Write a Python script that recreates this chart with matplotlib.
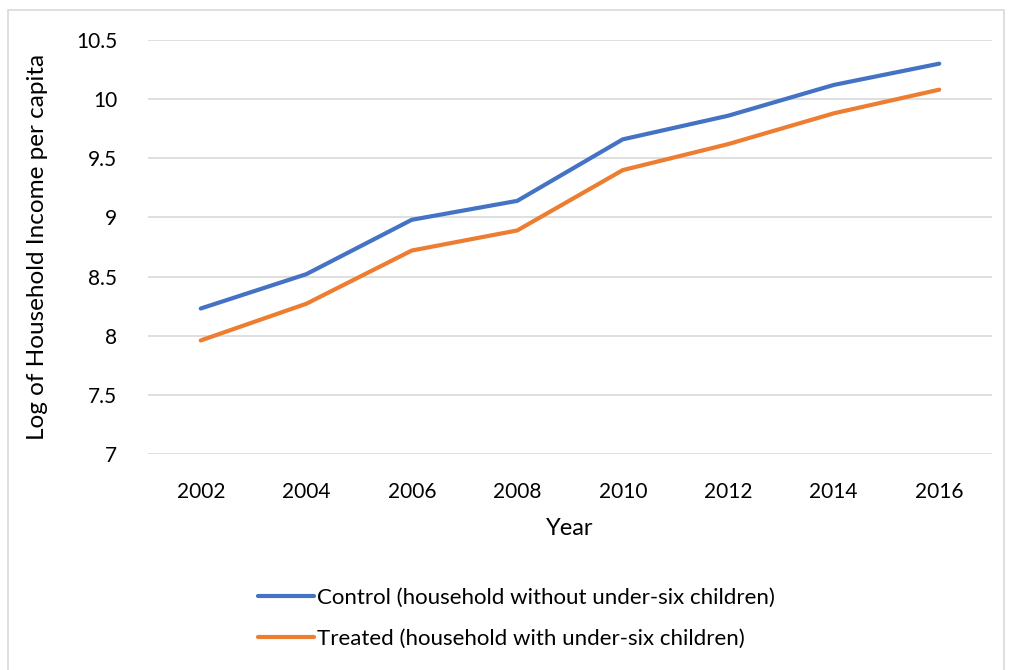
import numpy as np
import matplotlib.pyplot as plt
from matplotlib.patches import Rectangle

plt.rcParams['font.family'] = ['Lato', 'DejaVu Sans']

years = ['2002', '2004', '2006', '2008', '2010', '2012', '2014', '2016']
control = [8.23, 8.52, 8.98, 9.14, 9.66, 9.86, 10.12, 10.30]
treated = [7.96, 8.27, 8.72, 8.89, 9.40, 9.62, 9.88, 10.08]

fig = plt.figure(figsize=(10.11, 6.70), dpi=100)
ax = fig.add_axes([0.1464, 0.3224, 0.8348, 0.6179])

x = np.arange(len(years))
ax.plot(x, control, color='#4472C4', lw=3, solid_capstyle='round',
        label='Control (household without under-six children)')
ax.plot(x, treated, color='#ED7D31', lw=3, solid_capstyle='round',
        label='Treated (household with under-six children)')

ax.set_xlim(-0.5, len(years) - 0.5)
ax.set_ylim(7, 10.5)
ax.set_xticks(x)
ax.set_xticklabels(years)
ax.set_yticks([7, 7.5, 8, 8.5, 9, 9.5, 10, 10.5])
ax.set_yticklabels(['7', '7.5', '8', '8.5', '9', '9.5', '10', '10.5'])
ax.grid(axis='y', color='#d9d9d9', lw=1.2)
ax.set_axisbelow(True)
for s in ax.spines.values():
    s.set_visible(False)
ax.tick_params(length=0, labelsize=15)
ax.tick_params(axis='x', pad=20)
ax.tick_params(axis='y', pad=22)
ax.set_xlabel('Year', fontsize=17, labelpad=12)
ax.set_ylabel('Log of Household Income per capita', fontsize=17.5, labelpad=20)

fig.legend(loc='center', bbox_to_anchor=(0.511, 0.077), frameon=False,
           fontsize=16, handlelength=2.5, handletextpad=0.15, labelspacing=0.95)

# light frame around the chart area
fig.patches.append(Rectangle((8 / 1011, -0.01), 996 / 1011, 1 - 10 / 670 + 0.01,
                             transform=fig.transFigure, fill=False,
                             edgecolor='#d9d9d9', lw=1.2))

fig.savefig('out.png', dpi=100)
